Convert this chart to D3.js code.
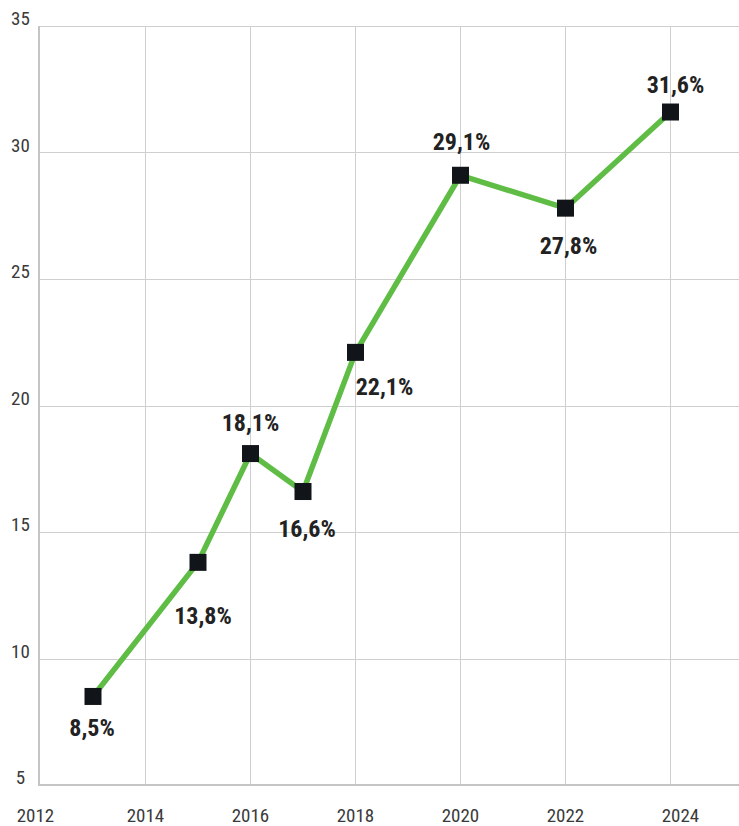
<!DOCTYPE html>
<html>
<head>
<meta charset="utf-8">
<script src="https://cdn.jsdelivr.net/npm/d3@7"></script>
<style>
  html, body { margin: 0; padding: 0; background: #fff; }
  svg { display: block; }
  .tick-label { font-family: "Roboto Condensed", Roboto, "Noto Sans", sans-serif; font-stretch: condensed; fill: #3a3a3a; }
  .val-label { font-family: "Roboto Condensed", Roboto, "Noto Sans", sans-serif; font-stretch: condensed; font-weight: 700; fill: #222; }
</style>
</head>
<body>
<svg id="chart" width="739" height="826"></svg>
<script>
// ---- data ----
const years  = [2013, 2015, 2016, 2017, 2018, 2020, 2022, 2024];
const values = [8.5, 13.8, 18.1, 16.6, 22.1, 29.1, 27.8, 31.6];
const valueLabels = ["8,5%", "13,8%", "18,1%", "16,6%", "22,1%", "29,1%", "27,8%", "31,6%"];
const xTicks = [2012, 2014, 2016, 2018, 2020, 2022, 2024];
const yTicks = [5, 10, 15, 20, 25, 30, 35];

// ---- layout (label placement offsets from the marker, in px) ----
const labelDx = [-1, 5, 0, 4, 29, 1, 3, 5];
const labelDy = [40, 62, -23, 45, 43, -25, 46, -19];

(function () {
  const W = 739, H = 826;
  const plotLeft = 39, plotTop = 26, plotBottom = 785;
  const svg = d3.select("#chart");

  const x = d3.scaleLinear().domain([2012, 2024]).range([40.5, 670.5]);
  const y = d3.scaleLinear().domain([5, 35]).range([plotBottom, plotTop]);

  // horizontal grid
  svg.append("g").selectAll("line").data(yTicks.filter(d => d !== 5)).join("line")
    .attr("x1", plotLeft).attr("x2", W)
    .attr("y1", d => Math.round(y(d)) + 0.5).attr("y2", d => Math.round(y(d)) + 0.5)
    .attr("stroke", "#cfcfcf").attr("stroke-width", 1);

  // vertical grid
  svg.append("g").selectAll("line").data(xTicks.filter(d => d !== 2012)).join("line")
    .attr("x1", d => x(d)).attr("x2", d => x(d))
    .attr("y1", plotTop).attr("y2", plotBottom)
    .attr("stroke", "#cfcfcf").attr("stroke-width", 1);

  // axis lines
  svg.append("line").attr("x1", plotLeft).attr("x2", plotLeft).attr("y1", plotTop).attr("y2", plotBottom + 1)
    .attr("stroke", "#c4c4c4").attr("stroke-width", 2);
  svg.append("line").attr("x1", plotLeft).attr("x2", W).attr("y1", plotBottom).attr("y2", plotBottom)
    .attr("stroke", "#c4c4c4").attr("stroke-width", 2);

  // y tick labels (centred, sitting on the gridline)
  svg.append("g").selectAll("text").data(yTicks).join("text")
    .attr("class", "tick-label")
    .attr("x", 20.5).attr("y", d => y(d) - 1)
    .attr("text-anchor", "middle")
    .attr("font-size", 19)
    .text(d => d);

  // x tick labels
  const xShift = d => d === 2012 ? -5 : (d === 2024 ? 10 : 0);
  svg.append("g").selectAll("text").data(xTicks).join("text")
    .attr("class", "tick-label")
    .attr("x", d => x(d) + xShift(d)).attr("y", 822)
    .attr("text-anchor", "middle")
    .attr("font-size", 19)
    .text(d => d);

  const pts = years.map((yr, i) => ({ yr, v: values[i], lab: valueLabels[i], dx: labelDx[i], dy: labelDy[i] }));

  // line
  svg.append("path").datum(pts)
    .attr("fill", "none")
    .attr("stroke", "#5fbd46")
    .attr("stroke-width", 5.5)
    .attr("stroke-linejoin", "round")
    .attr("d", d3.line().x(d => x(d.yr)).y(d => y(d.v)));

  // markers
  const S = 17;
  svg.append("g").selectAll("rect").data(pts).join("rect")
    .attr("x", d => x(d.yr) - S / 2).attr("y", d => y(d.v) - S / 2)
    .attr("width", S).attr("height", S)
    .attr("fill", "#111418");

  // value labels
  svg.append("g").selectAll("text").data(pts).join("text")
    .attr("class", "val-label")
    .attr("x", d => x(d.yr) + d.dx).attr("y", d => y(d.v) + d.dy)
    .attr("text-anchor", "middle")
    .attr("font-size", 24)
    .text(d => d.lab);
})();
</script>
</body>
</html>
